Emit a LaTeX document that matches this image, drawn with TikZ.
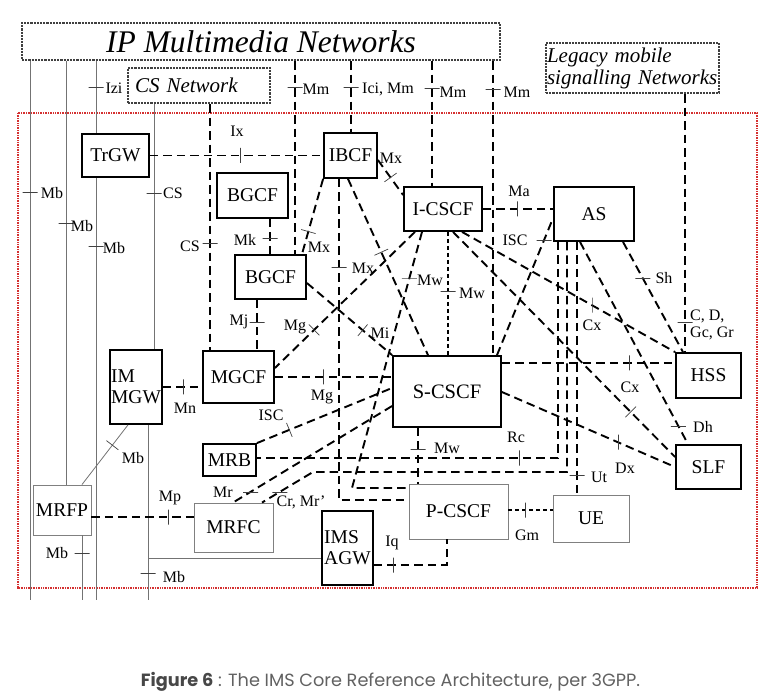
\documentclass[tikz,border=0pt]{standalone}
\usepackage{fontspec}
\setmainfont{Liberation Serif}
\newfontfamily\capfont{Poppins}
\definecolor{coreframe}{RGB}{212,48,48}
\begin{document}
\begin{tikzpicture}[x=1pt,y=-1pt,
    nbox/.style={draw, line width=1.8pt, inner sep=1pt, font=\fontsize{19.5}{21}\selectfont},
    gbox/.style={draw=black!50, line width=0.9pt, inner sep=1pt, font=\fontsize{19.5}{21}\selectfont},
    netbox/.style={draw=black!75, densely dotted, line width=2.2pt, inner sep=1pt},
    link/.style={line width=1.9pt, dash pattern=on 8.5pt off 5pt},
    slink/.style={line width=1.9pt, dash pattern=on 4pt off 3pt},
    mbline/.style={draw=black!55, line width=0.8pt},
    htick/.style={draw=black!75, solid, line width=0.7pt, minimum width=15pt, minimum height=0pt, inner sep=0pt, outer sep=0pt},
    vtick/.style={htick, minimum width=0pt, minimum height=15pt},
    stick/.style={vtick, sloped},
    lab/.style={font=\fontsize{16}{17}\selectfont, inner sep=0pt}]
    \useasboundingbox (0,0) rectangle (782,692);

    % Core network frame
    \draw[coreframe, line width=1.6pt, dash pattern=on 1pt off 0.7pt] (18,113) rectangle (757,588);

    % Outside networks
    \node[netbox, minimum width=478, minimum height=37, font=\itshape\fontsize{31.5}{33}\selectfont] (ipnet) at (261,41.5) {IP Multimedia Networks};
    \node[netbox, minimum width=142, minimum height=35, text width=128, align=left, font=\itshape\fontsize{21}{23}\selectfont] (csnet) at (199,85.5) {CS Network};
    \node[netbox, minimum width=173, minimum height=50, text width=171, align=left, font=\itshape\fontsize{21}{22}\selectfont] (legacy) at (632.5,68) {Legacy mobile\\signalling Networks};

    % Functional entities
    \node[nbox, minimum width=67, minimum height=43] (trgw) at (115.5,155.5) {TrGW};
    \node[nbox, minimum width=53, minimum height=45] (ibcf) at (350.5,155.5) {IBCF};
    \node[nbox, minimum width=71, minimum height=45] (bgcfa) at (252.5,195.5) {BGCF};
    \node[nbox, minimum width=71, minimum height=44] (bgcfb) at (270.5,277) {BGCF};
    \node[nbox, minimum width=78, minimum height=44] (icscf) at (443,209) {I-CSCF};
    \node[nbox, minimum width=80, minimum height=54] (as) at (594,214) {AS};
    \node[nbox, minimum width=65, minimum height=45] (hss) at (708.5,375.5) {HSS};
    \node[nbox, minimum width=65, minimum height=44] (slf) at (708.5,467) {SLF};
    \node[nbox, minimum width=108, minimum height=71, font=\fontsize{20.5}{22}\selectfont] (scscf) at (447,391.5) {S-CSCF};
    \node[nbox, minimum width=71, minimum height=52] (mgcf) at (238.5,377) {MGCF};
    \node[nbox, minimum width=52, minimum height=74, align=left] (immgw) at (136,387) {IM\\MGW};
    \node[nbox, minimum width=53, minimum height=32] (mrb) at (229.5,460) {MRB};
    \node[nbox, minimum width=51, minimum height=74, align=left] (imsagw) at (347.5,548) {IMS\\AGW};
    \node[gbox, minimum width=58, minimum height=50] (mrfp) at (62,510) {MRFP};
    \node[gbox, minimum width=79, minimum height=49] (mrfc) at (233.5,527.5) {MRFC};
    \node[gbox, minimum width=99, minimum height=55] (pcscf) at (458.5,511.5) {P-CSCF};
    \node[gbox, minimum width=76, minimum height=47] (ue) at (591,518.5) {UE};

    % Bearer lines (solid)
    \coordinate (floor) at (0,600);
    \draw[mbline] (30,0 |- ipnet.south) -- node[htick,pos=.244] (tmb1) {} (30,0 |- floor);
    \draw[mbline] (66,0 |- ipnet.south) -- node[htick,pos=.384] (tmb2) {} (66,0 |- mrfp.north);
    \draw[mbline] (96,0 |- ipnet.south) -- node[htick,pos=.365] (tizi) {} (96,0 |- trgw.north);
    \draw[mbline] (96,0 |- trgw.south) -- node[htick,pos=.163] (tmb3) {} (96,0 |- floor);
    \draw[mbline] (154,0 |- csnet.south) -- node[htick,pos=.364] (tcs1) {} (154,0 |- immgw.north);
    \draw[mbline] (148,0 |- immgw.south) -- node[htick,pos=.847] (tmb6) {} (148,0 |- floor);
    \coordinate (agwtap) at (148,558);
    \draw[mbline] (agwtap) -- (imsagw.west |- agwtap);
    \draw[mbline] (82,0 |- mrfp.south) -- node[htick,pos=.277] (tmb5) {} (82,0 |- floor);
    \draw[mbline] (128,0 |- immgw.south) -- node[stick,pos=.34] (tmb4) {} (82,0 |- mrfp.north);

    % Signalling links from outside networks
    \draw[link] (210,0 |- csnet.south) -- node[htick,pos=.565] (tcs2) {} (210,0 |- mgcf.north);
    \draw[link] (295,0 |- ipnet.south) -- node[htick,pos=.138] (tmm1) {} (295,0 |- bgcfb.north);
    \draw[link] (351,0 |- ipnet.south) -- node[htick,pos=.37] (tici) {} (351,0 |- ibcf.north);
    \draw[link] (432,0 |- ipnet.south) -- node[htick,pos=.22] (tmm2) {} (432,0 |- icscf.north);
    \draw[link] (493,0 |- ipnet.south) -- node[htick,pos=.095] (tmm3) {} (493,0 |- scscf.north);
    \draw[link] (685,0 |- legacy.south) -- node[htick,pos=.885] (tcd) {} (685,0 |- hss.north);

    % Signalling links inside the core
    \draw[link] (trgw.east) -- node[vtick,pos=.52] (tix) {} (ibcf.west);
    \draw[link] (icscf.east) -- node[vtick,pos=.486] (tma) {} (icscf.east -| as.west);
    \draw[link] (immgw.east) -- node[vtick,pos=.51] (tmn) {} (mgcf.west |- immgw.east);
    \draw[link] (mgcf.east) -- node[vtick,pos=.41] (tmg2) {} (scscf.west |- mgcf.east);
    \draw[link] (scscf.east |- 0,363) -- node[vtick,pos=.735] (tcx2) {} (hss.west |- 0,363);
    \draw[link] (mrfp.east |- 0,517) -- node[vtick,pos=.75] (tmp) {} (mrfc.west |- 0,517);
    \draw[slink] (pcscf.east |- 0,510) -- node[vtick,pos=.38] (tgm) {} (ue.west |- 0,510);
    \draw[link] (imsagw.east |- 0,565) -| node[vtick,pos=.13] (tiq) {} (447,0 |- pcscf.south);

    \draw[link] (ibcf.east |- 0,160) -- node[stick,pos=.5] (tmx1) {} (icscf.west |- 0,195);
    \draw[link] (ibcf.south west) -- node[stick,pos=.7] (tmx2) {} (302,0 |- bgcfb.north);
    \draw[link] (339,0 |- ibcf.south) |- node[htick,pos=.138] (tmx3) {} (pcscf.west |- 0,500);
    \draw[link] (348,0 |- ibcf.south) -- node[stick,pos=.416] (tmx4) {} (428,0 |- scscf.north);
    \draw[link] (270,0 |- bgcfa.south) -- node[htick,pos=.54] (tmk) {} (270,0 |- bgcfb.north);
    \draw[link] (257,0 |- bgcfb.south) -- node[htick,pos=.44] (tmj) {} (257,0 |- mgcf.north);
    \draw[link] (bgcfb.east |- 0,283) -- node[stick,pos=.655] (tmi) {} (scscf.north west);
    \draw[link] (415,0 |- icscf.south) -- node[stick,pos=.72] (tmg1) {} (mgcf.east |- 0,368);
    \coordinate (mwbend) at (352,488);
    \draw[link] (422,0 |- icscf.south) -- node[htick,pos=.18] (tmw1) {} (mwbend) -- (pcscf.west |- mwbend);
    \draw[slink] (448,0 |- icscf.south) -- node[htick,pos=.48] (tmw2) {} (448,0 |- scscf.north);
    \draw[link] (462,0 |- icscf.south) -- node[vtick,pos=.61] (tcx1) {} (hss.north west);
    \draw[link] (453,0 |- icscf.south) -- node[stick,pos=.8] (tdx1) {} (slf.west |- 0,457);
    \draw[link] (497,0 |- scscf.north) -- node[htick,pos=.84] (tisc1) {} (as.west |- 0,218);
    \draw[link] (scscf.east |- 0,392) -- node[vtick,pos=.67] (tdx2) {} (slf.west |- 0,467);
    \draw[link] (418,0 |- scscf.south) -- node[htick,pos=.39] (tmw3) {} (418,0 |- pcscf.north);
    \draw[link] (623,0 |- as.south) -- node[htick,pos=.33] (tsh) {} (683,0 |- hss.north);
    \draw[link] (580,0 |- as.south) -- node[htick,pos=.91] (tdh) {} (688,0 |- slf.north);
    \draw[link] (558,0 |- as.south) |- node[vtick,pos=.565] (trc) {} (mrb.east |- 0,458);
    \coordinate (crbend) at (313,472);
    \draw[link] (567,0 |- as.south) |- (crbend) -- node[htick,pos=.65] (tcr) {} (262,0 |- mrfc.north);
    \draw[link] (577,0 |- as.south) -- node[htick,pos=.925] (tut) {} (577,0 |- ue.north);
    \draw[link] (mrb.north east) -- node[stick,pos=.24] (tisc2) {} (scscf.west |- 0,388);
    \draw[link] (scscf.west |- 0,406) -- node[htick,pos=.89] (tmr) {} (233,0 |- mrfc.north);

    % Interface labels
    \node[lab] (lmb1) at (52,193) {Mb};
    \node[lab] (lmb2) at (82,226) {Mb};
    \node[lab] (lizi) at (114,88) {Izi};
    \node[lab] (lmb3) at (114,248) {Mb};
    \node[lab] (lcs1) at (173,193) {CS};
    \node[lab] (lmb4) at (133,458) {Mb};
    \node[lab] (lmb5) at (57,553) {Mb};
    \node[lab] (lmb6) at (174,577) {Mb};
    \node[lab] (lcs2) at (190,246) {CS};
    \node[lab] (lix) at (237,131) {Ix};
    \node[lab] (lmm1) at (316,89) {Mm};
    \node[lab] (lici) at (388,89) {Ici, Mm};
    \node[lab] (lmm2) at (453,92) {Mm};
    \node[lab] (lmm3) at (517,92) {Mm};
    \node[lab] (lmx1) at (391,158) {Mx};
    \node[lab] (lmk) at (245,240) {Mk};
    \node[lab] (lmx2) at (319,247) {Mx};
    \node[lab] (lmx3) at (363,268) {Mx};
    \node[lab] (lmj) at (239,322) {Mj};
    \node[lab] (lmg1) at (295,327) {Mg};
    \node[lab] (lmi) at (380,333) {Mi};
    \node[lab] (lmw1) at (430,280) {Mw};
    \node[lab] (lmw2) at (472,293) {Mw};
    \node[lab] (lma) at (519,191) {Ma};
    \node[lab] (lisc1) at (515,240) {ISC};
    \node[lab] (lcx1) at (592,325) {Cx};
    \node[lab] (lsh) at (664,278) {Sh};
    \node[lab, align=left, anchor=west] (lcd) at (690,324.5) {C, D,\\Gc, Gr};
    \node[lab] (lcx2) at (630,387) {Cx};
    \node[lab] (ldx) at (625,468) {Dx};
    \node[lab] (ldh) at (703,427) {Dh};
    \node[lab] (lut) at (599,477) {Ut};
    \node[lab] (lgm) at (527,535) {Gm};
    \node[lab] (lrc) at (516,437) {Rc};
    \node[lab] (lmw3) at (447,448) {Mw};
    \node[lab] (liq) at (392,543) {Iq};
    \node[lab] (lmn) at (185,408) {Mn};
    \node[lab] (lmg2) at (322,397) {Mg};
    \node[lab] (lisc2) at (271,415) {ISC};
    \node[lab] (lmr) at (223,492) {Mr};
    \node[lab] (lcr) at (301,502) {Cr, Mr’};
    \node[lab] (lmp) at (170,498) {Mp};

    % Caption
    \node[font=\capfont\fontsize{17.7}{20}\selectfont, text=black!62] (caption) at (390.5,682) {\textcolor{black!72}{\textbf{Figure 6}} : The IMS Core Reference Architecture, per 3GPP.};
\end{tikzpicture}
\end{document}
